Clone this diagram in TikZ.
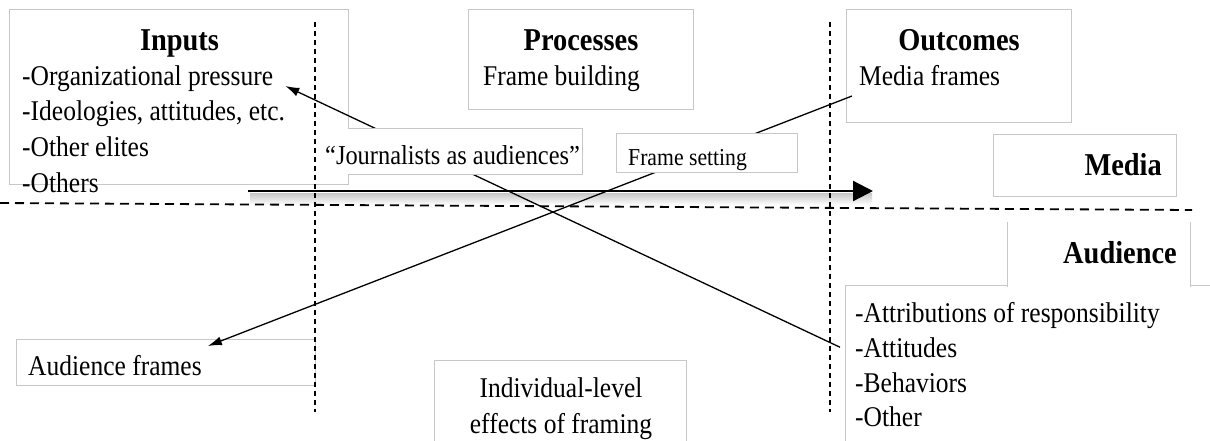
\documentclass[tikz,border=0pt]{standalone}
\usepackage{fontspec}
\setmainfont{Liberation Serif}
\usetikzlibrary{arrows.meta, positioning}
\newcommand{\tallt}[1]{\scalebox{1}[1.12]{#1}}

\begin{document}
\begin{tikzpicture}
  [
    x=1pt, y=-1pt,
    box/.style={draw=black!22, line width=0.9pt, inner sep=0pt, anchor=north west},
    whitebox/.style={box, fill=white},
    head/.style={inner sep=0pt, anchor=base, font=\bfseries\fontsize{28.4}{34}\selectfont},
    item/.style={inner sep=0pt, anchor=base west, font=\fontsize{25.5}{35.6}\selectfont},
    note/.style={inner sep=0pt, anchor=base west, font=\fontsize{24.4}{30}\selectfont},
    divider/.style={line width=1.2pt, dash pattern=on 5pt off 4pt},
    split/.style={line width=1.8pt, dash pattern=on 9pt off 6pt},
    link/.style={line width=1.3pt, -{Latex[length=14pt,width=9pt]}}
  ]
  \useasboundingbox (0,0) rectangle (1210,440);

  \node[box, minimum width=339pt, minimum height=175pt] (inputs) at (9,9) {};
  \node[box, minimum width=225pt, minimum height=100pt] (processes) at (468,9) {};
  \node[box, minimum width=225pt, minimum height=113pt] (outcomes) at (846,9) {};
  \node[box, minimum width=183pt, minimum height=62pt] (media) at (993,134) {};
  \node[box, minimum width=299pt, minimum height=46pt] (audframes) at (16,339) {};
  \node[box, minimum width=252pt, minimum height=100pt] (individual) at (434,360) {};
  \node[box, minimum width=380pt, minimum height=170pt] (effects) at (845,285) {};

  \coordinate (mstart) at (248,191);
  \coordinate (mend) at (873,191);
  \fill[top color=black!22, bottom color=white] (250,193) rectangle (872,205);

  \coordinate (lefttop) at (315,22);
  \coordinate (leftbot) at (315,412);
  \coordinate (righttop) at (830,22);
  \coordinate (rightbot) at (830,412);
  \coordinate (splitl) at (0,203);
  \coordinate (splitr) at (1192,210);
  \draw[divider] (lefttop) -- (leftbot);
  \draw[divider] (righttop) -- (rightbot);
  \draw[split] (splitl) -- (splitr);

  \node[head] (inputshead) at (179.5,50) {\tallt{Inputs}};
  \node[item] (orgp) at (22,85) {\tallt{-Organizational pressure}};
  \node[item] (ideol) at (22,120) {\tallt{-Ideologies, attitudes, etc.}};
  \node[item] (elites) at (22,156) {\tallt{-Other elites}};
  \node[item] (others) at (22,192) {\tallt{-Others}};

  \node[head] (processhead) at (581,50) {\tallt{Processes}};
  \node[item] (building) at (483,85) {\tallt{Frame building}};

  \node[head] (outcomehead) at (959,50) {\tallt{Outcomes}};
  \node[item] (mframes) at (859,85) {\tallt{Media frames}};

  \node[head, anchor=base east] (mediahead) at (1162,175) {\tallt{Media}};

  \node[item] (aftext) at (28,375) {\tallt{Audience frames}};

  \node[item, anchor=base] (indiv1) at (561,397) {\tallt{Individual-level}};
  \node[item, anchor=base] (indiv2) at (561,433) {\tallt{effects of framing}};

  \node[item] (attrib) at (855,322) {\tallt{-Attributions of responsibility}};
  \node[item] (attd) at (855,357) {\tallt{-Attitudes}};
  \node[item] (behav) at (855,392) {\tallt{-Behaviors}};
  \node[item] (other) at (855,426) {\tallt{-Other}};

  \draw[line width=2.2pt, -{Triangle[length=20pt,width=20pt]}] (mstart) -- (mend);

  \draw[link] ([xshift=-15pt]attd.west) -- ([shift={(12pt,-1pt)}]orgp.base east);
  \draw[link] ([shift={(-7pt,-11pt)}]mframes.base west) -- ([shift={(6pt,29pt)}]aftext.base east);

  \node[whitebox, draw=none, minimum width=264pt, minimum height=46pt] (journ) at (318,128) {};
  \draw[black!22, line width=0.9pt] ([xshift=30pt]journ.north west) -- (journ.north east) -- (journ.south east) -- ([xshift=30pt]journ.south west);
  \node[note] (journtext) at (325,164) {\tallt{“Journalists as audiences”}};

  \node[whitebox, minimum width=181pt, minimum height=39pt] (setting) at (616,133) {};
  \node[note, font=\fontsize{21.7}{26}\selectfont] (settingtext) at (628,165) {\tallt{Frame setting}};

  \node[whitebox, draw=none, minimum width=183pt, minimum height=64pt] (audience) at (1007,222) {};
  \draw[black!22, line width=0.9pt] (audience.north west) -- (audience.south west) (audience.north east) -- (audience.south east);
  \node[head, anchor=base east] (audiencehead) at (1177,263) {\tallt{Audience}};
\end{tikzpicture}
\end{document}
